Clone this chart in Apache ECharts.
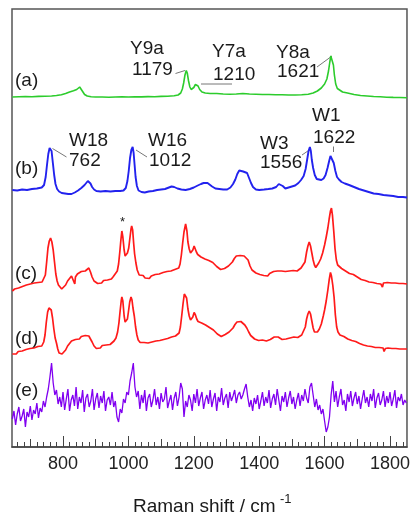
<!DOCTYPE html>
<html>
<head>
<meta charset="utf-8">
<script src="https://cdn.jsdelivr.net/npm/echarts@6/dist/echarts.min.js"></script>
<style>
  html, body { margin: 0; padding: 0; background: #fff; }
  #chart { width: 413px; height: 514px; }
</style>
</head>
<body>
<div id="chart"></div>
<script>
// Raman spectra, stacked (a)-(e); intensity in arbitrary offset units
const specA = [[645,350],[665,350.3],[685,350.5],[705,350.2],[725,350.6],[745,350.8],[765,351],[780,351.5],[795,352.3],[808,353.5],[820,355],[832,356.3],[842,357.5],[848,359],[851,360],[855,358.5],[860,355.5],[866,352.5],[874,351],[886,350.3],[900,350],[920,350],[940,349.8],[960,350],[980,350.1],[1000,350],[1020,350.2],[1040,350.1],[1060,350.4],[1080,350.3],[1100,350.6],[1120,350.8],[1140,351.2],[1152,352],[1160,354],[1165,358],[1169,364],[1173,372],[1177,376.5],[1180,374],[1184,366],[1188,360],[1192,357.5],[1196,357],[1200,359.5],[1205,362.5],[1209,363],[1213,361],[1218,357.5],[1225,355],[1235,354],[1250,353.5],[1270,353.5],[1290,353],[1310,352.8],[1330,353],[1350,353.5],[1370,353],[1390,352.8],[1410,352.5],[1430,352.5],[1450,352.3],[1470,352.2],[1490,352],[1510,352],[1530,352.3],[1550,352.8],[1565,354],[1578,356],[1590,359],[1600,363],[1607,368],[1612,376],[1616,385],[1619,391],[1621,392],[1624,389],[1627,382],[1630,372],[1634,363],[1639,358.5],[1645,356.5],[1655,355],[1670,354],[1690,352.5],[1710,351.5],[1730,351],[1750,350.5],[1770,350.2],[1790,349.8],[1810,349.6],[1830,349.5],[1852,349.2]];

const specB = [[645,257],[660,256.5],[675,257.5],[690,257],[705,258],[720,258.5],[735,259.5],[742,262],[747,270],[751,282],[755,293],[759,299],[762,301],[765,296],[769,284],[773,272],[777,263],[782,258],[788,255.5],[796,254],[806,253.5],[816,253],[826,253],[836,254.5],[846,256.5],[856,259],[866,262],[872,264],[876,266],[880,266.5],[884,263.5],[889,260],[895,257.5],[902,256],[915,255.5],[930,256],[945,255.5],[960,256],[975,256],[985,256.5],[992,259],[997,266],[1001,276],[1005,289],[1009,297],[1013,300],[1016,294],[1019,282],[1022,270],[1026,261],[1031,256.5],[1040,255],[1050,254.5],[1062,255.5],[1075,256],[1088,257],[1100,257.5],[1112,258],[1124,259.5],[1132,260.5],[1140,260],[1150,258.5],[1162,257.5],[1175,257],[1188,258],[1200,259.5],[1212,261.5],[1222,263],[1230,264],[1236,265],[1242,264],[1248,263.5],[1256,260.5],[1266,258.5],[1278,258],[1290,257.5],[1302,257.5],[1312,259.5],[1320,263],[1327,267.5],[1333,273],[1339,276.5],[1345,276],[1351,275.5],[1357,276],[1363,274],[1369,269],[1375,264],[1381,260],[1390,257.5],[1400,257],[1415,257.5],[1428,258],[1440,258.5],[1452,260],[1460,263],[1466,264],[1472,261],[1480,258.5],[1490,259.5],[1500,260.5],[1510,261.5],[1520,264],[1528,267],[1536,271],[1542,278],[1547,288],[1551,296],[1555,300],[1558,296],[1561,287],[1565,279],[1570,272],[1576,268],[1582,266.5],[1590,267],[1597,268.5],[1603,272],[1609,279],[1614,286],[1618,291],[1621,292],[1624,290],[1628,284],[1633,276],[1638,270],[1644,267.5],[1652,265],[1662,263.5],[1675,262],[1690,260],[1705,258],[1720,256.5],[1735,255],[1750,253.5],[1765,253],[1780,252],[1795,251.5],[1810,251],[1825,250],[1840,250],[1852,249.5]];

const specC = [[645,156],[652,158],[658,156.5],[664,159],[670,158],[676,160.5],[682,159],[688,162],[694,160.5],[700,163],[706,161.5],[712,164],[718,162],[724,164.5],[730,163],[736,165],[742,167],[746,172],[750,185],[754,199],[758,206],[762,209],[766,205],[770,197],[774,185],[778,173],[782,166],[786,162],[790,160],[796,158],[802,159],[808,162],[814,166],[820,168],[826,171],[832,169],[836,163],[838,170],[844,173],[850,172],[856,175.5],[862,174],[868,176],[874,178],[879,179],[884,175],[889,170],[895,166],[900,164],[906,163.5],[912,165],[918,164],[924,166.5],[930,165],[936,167],[942,166.5],[948,168],[954,170.5],[960,172],[966,176],[970,183],[974,196],[977,207],[980,216],[983,210],[987,197],[990,191],[993,190],[997,194],[1001,199],[1005,210],[1008,218],[1010,221],[1013,217],[1016,204],[1019,193],[1023,184],[1027,177],[1033,172],[1039,170],[1045,171.5],[1051,169],[1057,170.5],[1064,168.5],[1070,171],[1076,170],[1082,172.5],[1088,171],[1094,173],[1100,172],[1106,174.5],[1112,173],[1118,175.5],[1124,174.5],[1130,176],[1136,175],[1142,177.5],[1148,176.5],[1154,179],[1158,183],[1162,192],[1166,204],[1170,215],[1175,223],[1179,216],[1182,205],[1186,198],[1190,194],[1193,193.5],[1197,197],[1201,201],[1204,200],[1208,195],[1212,192.5],[1217,191],[1222,190],[1228,189.5],[1234,188],[1240,187],[1246,186.5],[1252,185],[1258,184.5],[1264,183],[1270,180.5],[1276,179],[1282,177.5],[1288,177],[1294,178.5],[1300,180],[1306,181],[1312,182],[1318,185],[1324,188.5],[1330,191],[1336,192],[1342,191.5],[1348,193.5],[1354,191],[1360,190.5],[1366,187],[1372,181],[1378,177],[1384,175],[1390,174],[1396,173.5],[1402,172.5],[1408,174],[1414,171.5],[1420,172.5],[1426,171],[1432,173.5],[1438,174],[1444,175.5],[1450,177.5],[1456,176],[1462,174.5],[1468,176],[1474,174],[1480,175.5],[1486,174.5],[1492,176],[1498,175],[1504,176.5],[1510,177],[1516,176],[1522,178],[1528,179],[1534,180.5],[1540,185],[1545,195],[1549,201],[1553,205],[1557,201],[1561,194],[1565,187],[1569,182],[1573,179.5],[1577,181],[1582,184],[1588,188],[1594,194],[1600,202],[1605,210],[1610,219],[1614,228],[1618,236],[1621,239],[1624,232],[1628,216],[1632,198],[1636,187],[1640,182],[1646,180],[1652,178.5],[1658,177],[1664,176],[1670,174.5],[1676,173.5],[1682,172],[1688,172.5],[1694,170.5],[1700,170],[1706,169.5],[1712,167.5],[1718,168],[1724,166.5],[1730,166],[1736,165],[1742,166],[1748,164.5],[1754,165],[1760,163.5],[1766,164.5],[1772,163],[1777,160],[1780,164],[1786,163.5],[1792,164.5],[1798,162.5],[1804,164],[1810,163],[1816,164],[1822,162.5],[1828,163.5],[1834,162],[1840,163.5],[1846,162.5],[1852,163]];

const specD = [[645,93],[651,94.5],[657,93],[663,95.5],[669,94],[675,96],[681,95],[687,97.5],[693,96],[699,98.5],[705,97],[711,99],[717,98],[723,100.5],[729,99.5],[735,101],[741,105],[745,112],[749,125],[753,135],[757,139],[760,140.5],[764,137],[768,129],[772,118],[776,109],[780,104],[784,98],[788,94],[792,92.5],[797,93],[802,94.5],[808,97],[814,101],[820,103.5],[826,106],[832,105],[838,107.5],[844,108.5],[850,108],[856,110.5],[862,109.5],[868,111.5],[874,112],[879,111],[884,109],[889,105],[895,101],[902,98.5],[908,100],[914,99],[920,101.5],[926,100.5],[932,102],[938,101],[944,102.5],[950,104],[956,106],[962,109],[967,115],[971,124],[975,137],[978,146],[980,150],[983,146],[987,131],[990,125],[993,123.5],[997,128],[1000,135],[1004,145],[1008,150],[1011,147],[1014,139],[1018,131],[1022,120],[1026,112],[1030,107],[1036,104.5],[1042,103],[1048,104.5],[1054,103],[1060,104],[1066,103.5],[1072,105],[1078,104.5],[1084,106],[1090,105],[1096,106.5],[1102,106],[1108,107.5],[1114,107],[1120,108.5],[1126,108],[1132,110],[1138,109.5],[1144,111],[1150,112.5],[1155,114],[1159,120],[1163,131],[1167,143],[1171,153],[1174,155],[1178,149],[1182,138],[1186,131],[1190,127],[1193,126],[1197,130],[1201,134.5],[1205,132],[1209,128],[1213,125.5],[1218,125],[1224,124],[1230,123.5],[1236,122],[1242,120.5],[1248,119.5],[1254,118],[1260,117],[1266,115],[1272,113],[1278,111.5],[1284,110.5],[1290,111],[1296,112.5],[1302,114],[1308,115],[1314,116.5],[1320,119],[1326,122.5],[1332,125],[1338,124.5],[1344,125.5],[1350,123.5],[1356,122],[1362,119],[1368,115],[1374,111.5],[1380,109.5],[1386,108],[1392,107.5],[1398,106.5],[1404,105.5],[1410,107],[1416,105],[1422,106],[1428,105],[1434,107.5],[1440,108],[1446,110],[1452,112],[1458,110],[1464,108.5],[1470,107.5],[1476,106.5],[1482,108],[1488,107],[1494,109],[1500,108.5],[1506,110],[1512,110.5],[1518,109.5],[1524,111.5],[1530,112],[1536,114],[1541,120],[1545,128],[1549,133],[1553,136],[1557,133],[1561,126],[1565,119],[1569,115],[1573,113.5],[1578,115],[1584,118],[1590,123],[1596,131],[1600,137],[1605,146],[1610,157],[1614,167],[1618,174.5],[1621,171],[1625,162],[1629,150],[1633,132],[1637,120],[1641,115],[1647,112],[1653,111],[1659,110.5],[1665,109],[1671,108],[1677,107.5],[1683,106.5],[1689,106],[1695,105.5],[1701,105],[1707,103.5],[1713,103.5],[1719,102],[1725,102],[1731,101],[1737,100.5],[1743,100.5],[1749,99.5],[1755,99.5],[1761,99],[1767,99.5],[1773,98.5],[1779,99],[1782,95.5],[1786,98.5],[1794,99],[1800,98],[1806,98.5],[1812,97.5],[1818,98.5],[1824,97.5],[1830,98],[1836,97],[1842,98],[1848,97.5],[1852,98]];

// (e) difference spectrum, sampled every 5 cm-1 from 645
const eStart = 645, eStep = 5;
const specE = [
  28, 36, 22, 33, 40, 26, 31, 38, 20, 35,
  30, 41, 27, 37, 33, 44, 29, 39, 35, 46,
  40, 50, 58, 70, 84, 64, 52, 57, 43, 50,
  40, 55, 37, 48, 58, 36, 47, 52, 41, 60,
  38, 50, 44, 57, 35, 49, 53, 40, 46, 58,
  37, 48, 54, 39, 51, 44, 56, 36, 47, 50,
  42, 55, 40, 46, 30, 25, 38, 34, 48, 44,
  55, 52, 66, 74, 84, 60, 50, 56, 38, 52,
  44, 57, 36, 49, 53, 40, 47, 58, 42, 50,
  38, 54, 45, 48, 60, 39, 46, 52, 37, 49,
  55, 41, 50, 64, 58, 30, 46, 40, 52, 47,
  36, 53, 44, 58, 41, 49, 55, 38, 47, 52,
  43, 57, 40, 48, 54, 36, 50, 45, 59, 42,
  49, 53, 39, 55, 46, 51, 57, 44, 52, 55,
  48, 52, 58, 63, 50, 40, 47, 36, 49, 43,
  52, 38, 46, 55, 41, 50, 44, 57, 39, 48,
  53, 42, 58, 47, 36, 51, 45, 55, 40, 49,
  56, 43, 50, 38, 47, 54, 41, 52, 46, 58,
  49, 44, 60, 64, 52, 40, 48, 37, 42, 33,
  38, 26, 15, 20, 30, 52, 66, 45, 56, 40,
  50, 58, 42, 47, 36, 53, 45, 56, 41, 49,
  55, 43, 51, 38, 48, 57, 44, 50, 40, 53,
  46, 58, 39, 49, 54, 42, 47, 56, 40, 51,
  44, 55, 41, 48, 57, 39, 50, 46, 53, 42,
  47, 44
];

const labelTicks = [800, 1000, 1200, 1400, 1600, 1800];
const midTicks = [700, 900, 1100, 1300, 1500, 1700];
const minorTicks = [];
for (let v = 660; v < 1852; v += 20) if (v % 100 !== 0) minorTicks.push(v);

const xMin = 644, xMax = 1852;
const FONT = '"Liberation Sans", Arial, sans-serif';

function tickAxis(values, len, extra) {
  return Object.assign({
    type: 'value', min: xMin, max: xMax, position: 'bottom', offset: 0,
    axisLine: { show: false },
    axisTick: { show: true, inside: true, length: len, customValues: values, lineStyle: { color: '#444', width: 1 } },
    axisLabel: { show: false },
    splitLine: { show: false }
  }, extra || {});
}

function txt(text, x, y, size) {
  return { type: 'text', x: x, y: y, style: { text: text, font: (size || 19) + 'px ' + FONT, fill: '#1a1a1a', textVerticalAlign: 'middle' } };
}
function lead(x1, y1, x2, y2) {
  return { type: 'line', shape: { x1: x1, y1: y1, x2: x2, y2: y2 }, style: { stroke: '#777', lineWidth: 1 } };
}

const chart = echarts.init(document.getElementById('chart'));
chart.setOption({
  animation: false,
  grid: { left: 12, right: 4, top: 9, bottom: 67, show: true, borderColor: '#555', borderWidth: 1.5 },
  xAxis: [
    tickAxis(labelTicks, 11, {
      axisLine: { show: true, lineStyle: { color: '#444', width: 1.5 } },
      axisLabel: { show: true, customValues: labelTicks, formatter: v => String(v), fontSize: 18, fontFamily: FONT, color: '#222', margin: 8 }
    }),
    tickAxis(midTicks, 8),
    tickAxis(minorTicks, 5)
  ],
  yAxis: { type: 'value', min: 0, max: 438, show: false },
  series: [
    { type: 'line', data: specA, showSymbol: false, lineStyle: { color: '#2ccc2c', width: 1.6 } },
    { type: 'line', data: specB, showSymbol: false, lineStyle: { color: '#2222ee', width: 1.9 } },
    { type: 'line', data: specC, showSymbol: false, lineStyle: { color: '#ff1a1a', width: 1.7 } },
    { type: 'line', data: specD, showSymbol: false, lineStyle: { color: '#ff1a1a', width: 1.7 } },
    { type: 'line', data: specE.map((v, i) => [eStart + i * eStep, v]), showSymbol: false, lineStyle: { color: '#8000f0', width: 1.3 } }
  ],
  graphic: [
    txt('(a)', 15, 81), txt('(b)', 15, 169), txt('(c)', 15, 274), txt('(d)', 15, 339), txt('(e)', 15, 391),
    txt('Y9a', 130, 49), txt('1179', 132, 70), lead(175.5, 73.5, 185, 70.5),
    txt('Y7a', 212, 52), txt('1210', 213, 75), lead(201, 84, 232, 84),
    txt('Y8a', 276, 53), txt('1621', 277, 72), lead(317, 67, 332, 56),
    txt('W18', 69, 141), txt('762', 69, 161), lead(66.5, 157, 52.5, 148.5),
    txt('W16', 148, 141), txt('1012', 149, 161), lead(147, 157, 136, 150),
    txt('W3', 260, 144), txt('1556', 260, 163), lead(302, 155, 310, 149.5),
    txt('W1', 312, 116), txt('1622', 313, 138), lead(333.5, 146.5, 333.5, 152),
    txt('*', 120, 222, 13),
    txt('Raman shift / cm', 133, 507), txt('-1', 280, 499, 13)
  ]
});
</script>
</body>
</html>
